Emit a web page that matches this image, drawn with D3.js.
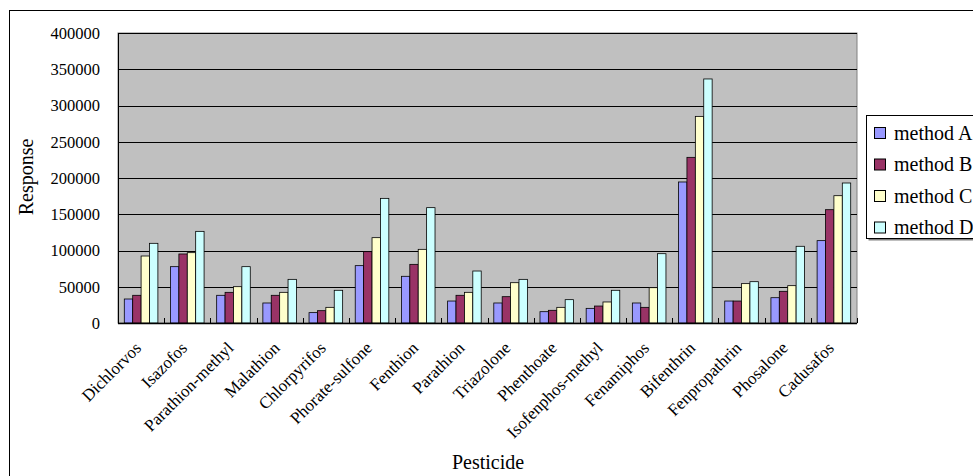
<!DOCTYPE html>
<html><head><meta charset="utf-8">
<script src="https://cdn.jsdelivr.net/npm/d3@7"></script>
<style>body{margin:0;background:#fff}svg{display:block}svg text{font-family:"Liberation Serif","Times New Roman",serif !important}</style>
</head><body><svg id="c" width="973" height="476"></svg>
<script>
const categories = ["Dichlorvos","Isazofos","Parathion-methyl","Malathion","Chlorpyrifos","Phorate-sulfone","Fenthion","Parathion","Triazolone","Phenthoate","Isofenphos-methyl","Fenamiphos","Bifenthrin","Fenpropathrin","Phosalone","Cadusafos"];
const seriesNames = ["method A","method B","method C","method D"];
const methodA = [33100,77700,38200,27600,14300,79100,64400,30300,27600,15600,20200,27600,194500,30300,34900,113600];
const methodB = [38200,95200,42300,38200,17000,98400,80900,38200,36300,17500,23400,21600,228500,30300,43700,156300];
const methodC = [92400,97000,50100,42300,21600,117700,101600,42300,55600,21600,29000,48700,285000,54300,51500,175600];
const methodD = [109900,126400,77700,60200,45100,171900,159100,71700,60200,32200,45100,95600,336600,57000,105800,193100];
const yTicks = [0,50000,100000,150000,200000,250000,300000,350000,400000];
const colors = ["#9999FF","#993366","#FFFFCC","#CCFFFF"];
const series = [methodA, methodB, methodC, methodD];

const svg = d3.select("#c");
svg.append("rect").attr("x",9.5).attr("y",10.5).attr("width",1000).attr("height",500)
  .attr("fill","#fff").attr("stroke","#000").attr("stroke-width",1);

const L = 118, R = 857, T = 33, B = 323;
const x = d3.scaleBand().domain(categories).range([L, R]).paddingInner(0).paddingOuter(0);
const y = d3.scaleLinear().domain([0, 400000]).range([B, T]);
const bw = x.bandwidth() / 5.5;

svg.append("rect").attr("x",L).attr("y",T).attr("width",R-L).attr("height",B-T)
  .attr("fill","#C0C0C0").attr("stroke","#808080");

svg.append("g").selectAll("line").data(yTicks.filter(d=>d>0)).join("line")
  .attr("x1",L).attr("x2",R).attr("y1",d=>Math.round(y(d))+0.5).attr("y2",d=>Math.round(y(d))+0.5)
  .attr("stroke","#000").attr("stroke-width",1);

const g = svg.append("g");
series.forEach((vals, si) => {
  g.selectAll(null).data(vals).join("rect")
    .attr("x",(d,i)=>x(categories[i]) + 0.75*bw + si*bw)
    .attr("y",d=>y(d))
    .attr("width",bw)
    .attr("height",d=>B - y(d))
    .attr("fill",colors[si]).attr("stroke","#000").attr("stroke-width",0.8);
});

const yAxis = d3.axisLeft(y).tickValues(yTicks).tickSize(0).tickPadding(0).tickFormat(d3.format("d"));
const ya = svg.append("g").attr("transform",`translate(${L},0)`).call(yAxis);
ya.attr("font-family",null).attr("font-size",null);
ya.select(".domain").attr("stroke","#000");
ya.selectAll("text").attr("x",-18).style("font-size","16.5px").attr("fill","#000");

const xa = svg.append("g").attr("transform",`translate(0,${B})`);
xa.append("line").attr("x1",L).attr("x2",R).attr("y1",0.5).attr("y2",0.5).attr("stroke","#000").attr("stroke-width",1.5);
xa.selectAll("line.tk").data(categories).join("line").attr("class","tk")
  .attr("x1",(d,i)=>Math.round(L + (i+1)*x.bandwidth())+0.5).attr("x2",(d,i)=>Math.round(L + (i+1)*x.bandwidth())+0.5)
  .attr("y1",0).attr("y2",-5).attr("stroke","#000");
xa.selectAll("text").data(categories).join("text")
  .attr("transform",d=>`translate(${x(d)+x.bandwidth()/2+1},${26}) rotate(-45)`)
  .attr("text-anchor","end").style("font-size","17px").attr("fill","#000").text(d=>d);

svg.append("text").attr("x",488).attr("y",469).attr("text-anchor","middle").style("font-size","20px").text("Pesticide");
svg.append("text").attr("transform","translate(33,177) rotate(-90)").attr("text-anchor","middle").style("font-size","20px").text("Response");

const lg = svg.append("g");
lg.append("rect").attr("x",868.5).attr("y",117.5).attr("width",120).attr("height",123).attr("fill","#808080");
lg.append("rect").attr("x",866.5).attr("y",115.5).attr("width",120).attr("height",123).attr("fill","#fff").attr("stroke","#000");
seriesNames.forEach((n,i)=>{
  const cy = 132.5 + i*31.5;
  lg.append("rect").attr("x",874.5).attr("y",cy-5).attr("width",11).attr("height",11).attr("fill",colors[i]).attr("stroke","#000");
  lg.append("text").attr("x",894).attr("y",cy+7).style("font-size","20px").text(n);
});
</script></body></html>
